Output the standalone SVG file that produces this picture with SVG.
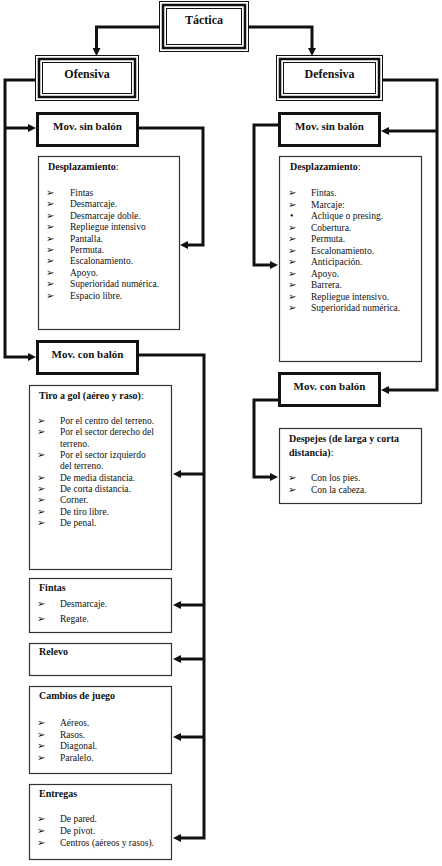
<svg xmlns="http://www.w3.org/2000/svg" width="442" height="866" viewBox="0 0 442 866">
<style>
text{font-family:"Liberation Serif","Times New Roman","DejaVu Serif",serif;fill:#111;}
.t{font-size:12px;font-weight:bold;text-anchor:middle;}
.m{font-size:11px;font-weight:bold;text-anchor:middle;}
.h{font-size:10px;font-weight:bold;}
.i{font-size:9.5px;}
.b{font-family:"DejaVu Sans",sans-serif;font-size:10px;font-weight:bold;}
.thin{fill:#fff;stroke:#111;stroke-width:1;}
.mid{fill:none;stroke:#111;stroke-width:2.5;}
.mov{fill:#fff;stroke:#111;stroke-width:3;}
.box{fill:#fff;stroke:#333;stroke-width:1.2;}
.c{fill:none;stroke:#111;stroke-width:3;}
</style>
<defs>
<marker id="ah" viewBox="0 0 8 8" refX="3" refY="4" markerWidth="8" markerHeight="8" markerUnits="userSpaceOnUse" orient="auto">
<path d="M0,0 L8,4 L0,8 z" fill="#111"/>
</marker>
</defs>

<g id="connectors">
<path class="c" d="M159,27 H96.5 V51" marker-end="url(#ah)"/>
<path class="c" d="M249,27 H312 V51" marker-end="url(#ah)"/>
<path class="c" d="M35.5,80 H5 V357 H31" marker-end="url(#ah)"/>
<path class="c" d="M5,128 H31" marker-end="url(#ah)"/>
<path class="c" d="M138,128 H203 V245 H185" marker-end="url(#ah)"/>
<path class="c" d="M138,355 H204 V838 H178" marker-end="url(#ah)"/>
<path class="c" d="M204,474 H178" marker-end="url(#ah)"/>
<path class="c" d="M204,605 H178" marker-end="url(#ah)"/>
<path class="c" d="M204,659 H178" marker-end="url(#ah)"/>
<path class="c" d="M204,737 H178" marker-end="url(#ah)"/>
<path class="c" d="M382,80 H437 V390 H386" marker-end="url(#ah)"/>
<path class="c" d="M437,131 H386" marker-end="url(#ah)"/>
<path class="c" d="M279,125 H254 V265 H273" marker-end="url(#ah)"/>
<path class="c" d="M279,400 H254 V477 H273" marker-end="url(#ah)"/>
</g>

<g id="tactica">
<rect class="thin" x="159.5" y="1.5" width="89" height="50"/>
<rect class="mid" x="163" y="5" width="82" height="43"/>
<rect class="thin" x="166.5" y="8.5" width="75" height="36" fill="none"/>
<text class="t" x="204" y="24">Táctica</text>
</g>

<g id="ofensiva">
<rect class="thin" x="35.5" y="55.5" width="103" height="45"/>
<rect class="mid" x="39" y="59" width="96" height="38"/>
<rect class="thin" x="42.5" y="62.5" width="89" height="31" fill="none"/>
<text class="t" x="87" y="78">Ofensiva</text>
</g>

<g id="defensiva">
<rect class="thin" x="276.5" y="55.5" width="106" height="45"/>
<rect class="mid" x="280" y="59" width="99" height="38"/>
<rect class="thin" x="283.5" y="62.5" width="92" height="31" fill="none"/>
<text class="t" x="329.5" y="78">Defensiva</text>
</g>

<g id="of-sin-balon">
<rect class="mov" x="37.5" y="113.5" width="100" height="32"/>
<text class="m" x="87.5" y="130">Mov. sin balón</text>
</g>

<g id="of-desplazamiento">
<rect class="box" x="38.5" y="156.5" width="141" height="173"/>
<text class="h" x="48" y="170">Desplazamiento<tspan font-weight="normal">:</tspan></text>
<text class="b" x="46" y="196">➢</text><text class="b" x="46" y="207.4">➢</text><text class="b" x="46" y="218.8">➢</text><text class="b" x="46" y="230.2">➢</text><text class="b" x="46" y="241.6">➢</text><text class="b" x="46" y="253">➢</text><text class="b" x="46" y="264.4">➢</text><text class="b" x="46" y="275.8">➢</text><text class="b" x="46" y="287.2">➢</text><text class="b" x="46" y="298.6">➢</text>
<text class="i" x="70" y="196">Fintas</text>
<text class="i" x="70" y="207.4">Desmarcaje.</text>
<text class="i" x="70" y="218.8">Desmarcaje doble.</text>
<text class="i" x="70" y="230.2">Repliegue intensivo</text>
<text class="i" x="70" y="241.6">Pantalla.</text>
<text class="i" x="70" y="253">Permuta.</text>
<text class="i" x="70" y="264.4">Escalonamiento.</text>
<text class="i" x="70" y="275.8">Apoyo.</text>
<text class="i" x="70" y="287.2">Superioridad numérica.</text>
<text class="i" x="70" y="298.6">Espacio libre.</text>
</g>

<g id="of-con-balon">
<rect class="mov" x="37.5" y="341.5" width="100" height="32"/>
<text class="m" x="87.5" y="358">Mov. con balón</text>
</g>

<g id="tiro-a-gol">
<rect class="box" x="29.5" y="385.5" width="142" height="184"/>
<text class="h" x="39" y="399">Tiro a gol (aéreo y raso)<tspan font-weight="normal">:</tspan></text>
<text class="b" x="37" y="424">➢</text><text class="b" x="37" y="435.3">➢</text><text class="b" x="37" y="458">➢</text><text class="b" x="37" y="480.6">➢</text><text class="b" x="37" y="492">➢</text><text class="b" x="37" y="503.3">➢</text><text class="b" x="37" y="514.6">➢</text><text class="b" x="37" y="526">➢</text>
<text class="i" x="60" y="424">Por el centro del terreno.</text>
<text class="i" x="60" y="435.3">Por el sector derecho del</text>
<text class="i" x="60" y="446.6">terreno.</text>
<text class="i" x="60" y="458">Por el sector izquierdo</text>
<text class="i" x="60" y="469.3">del terreno.</text>
<text class="i" x="60" y="480.6">De media distancia.</text>
<text class="i" x="60" y="492">De corta distancia.</text>
<text class="i" x="60" y="503.3">Corner.</text>
<text class="i" x="60" y="514.6">De tiro libre.</text>
<text class="i" x="60" y="526">De penal.</text>
</g>

<g id="fintas">
<rect class="box" x="29.5" y="578.5" width="142" height="54"/>
<text class="h" x="39" y="591">Fintas</text>
<text class="b" x="37" y="607">➢</text><text class="b" x="37" y="622">➢</text>
<text class="i" x="60" y="607">Desmarcaje.</text>
<text class="i" x="60" y="622">Regate.</text>
</g>

<g id="relevo">
<rect class="box" x="29.5" y="643.5" width="142" height="32"/>
<text class="h" x="39" y="655">Relevo</text>
</g>

<g id="cambios">
<rect class="box" x="29.5" y="686.5" width="142" height="87"/>
<text class="h" x="39" y="699">Cambios de juego</text>
<text class="b" x="37" y="726">➢</text><text class="b" x="37" y="737.5">➢</text><text class="b" x="37" y="749">➢</text><text class="b" x="37" y="760.5">➢</text>
<text class="i" x="60" y="726">Aéreos.</text>
<text class="i" x="60" y="737.5">Rasos.</text>
<text class="i" x="60" y="749">Diagonal.</text>
<text class="i" x="60" y="760.5">Paralelo.</text>
</g>

<g id="entregas">
<rect class="box" x="29.5" y="784.5" width="142" height="75"/>
<text class="h" x="39" y="797">Entregas</text>
<text class="b" x="37" y="822">➢</text><text class="b" x="37" y="834">➢</text><text class="b" x="37" y="846">➢</text>
<text class="i" x="60" y="822">De pared.</text>
<text class="i" x="60" y="834">De pívot.</text>
<text class="i" x="60" y="846">Centros (aéreos y rasos).</text>
</g>

<g id="def-sin-balon">
<rect class="mov" x="279.5" y="113.5" width="100" height="32"/>
<text class="m" x="329.5" y="130">Mov. sin balón</text>
</g>

<g id="def-desplazamiento">
<rect class="box" x="279.5" y="156.5" width="142" height="205"/>
<text class="h" x="290" y="170">Desplazamiento<tspan font-weight="normal">:</tspan></text>
<text class="b" x="288" y="196">➢</text><text class="b" x="288" y="207.5">➢</text><text class="i" x="290" y="219">•</text><text class="b" x="288" y="230.5">➢</text><text class="b" x="288" y="242">➢</text><text class="b" x="288" y="253.5">➢</text><text class="b" x="288" y="265">➢</text><text class="b" x="288" y="276.5">➢</text><text class="b" x="288" y="288">➢</text><text class="b" x="288" y="299.5">➢</text><text class="b" x="288" y="311">➢</text>
<text class="i" x="311" y="196">Fintas.</text>
<text class="i" x="311" y="207.5">Marcaje:</text>
<text class="i" x="311" y="219">Achique o presing.</text>
<text class="i" x="311" y="230.5">Cobertura.</text>
<text class="i" x="311" y="242">Permuta.</text>
<text class="i" x="311" y="253.5">Escalonamiento.</text>
<text class="i" x="311" y="265">Anticipación.</text>
<text class="i" x="311" y="276.5">Apoyo.</text>
<text class="i" x="311" y="288">Barrera.</text>
<text class="i" x="311" y="299.5">Repliegue intensivo.</text>
<text class="i" x="311" y="311">Superioridad numérica.</text>
</g>

<g id="def-con-balon">
<rect class="mov" x="279.5" y="373.5" width="100" height="32"/>
<text class="m" x="329.5" y="390">Mov. con balón</text>
</g>

<g id="despejes">
<rect class="box" x="279.5" y="428.5" width="142" height="75"/>
<text class="h" x="289" y="442">Despejes (de larga y corta</text>
<text class="h" x="289" y="456">distancia)<tspan font-weight="normal">:</tspan></text>
<text class="b" x="288" y="481">➢</text><text class="b" x="288" y="493">➢</text>
<text class="i" x="311" y="481">Con los pies.</text>
<text class="i" x="311" y="493">Con la cabeza.</text>
</g>
</svg>
